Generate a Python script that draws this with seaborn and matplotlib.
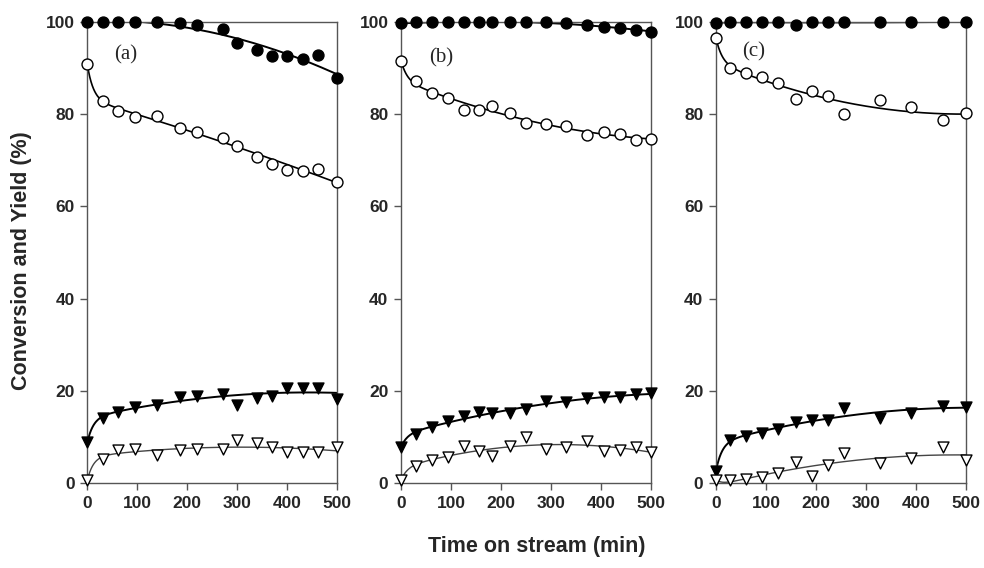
import numpy as np
import matplotlib
matplotlib.use("Agg")
import matplotlib.pyplot as plt
import seaborn as sns

# ---- data ----
time_a = [0, 32, 62, 95, 140, 186, 220, 272, 300, 340, 370, 400, 432, 462, 500]
conv_a = [100, 100, 100, 100, 100, 99.7, 99.3, 98.4, 95.5, 93.9, 92.6, 92.6, 92.0, 92.8, 87.9]
sel_a = [90.8, 82.9, 80.7, 79.4, 79.6, 77.1, 76.1, 74.9, 73.2, 70.7, 69.1, 68.0, 67.6, 68.1, 65.2]
yld1_a = [8.8, 14.2, 15.5, 16.4, 17.0, 18.6, 18.8, 19.4, 17.0, 18.4, 18.9, 20.7, 20.7, 20.7, 18.3]
yld2_a = [0.6, 5.3, 7.2, 7.4, 6.0, 7.1, 7.3, 7.4, 9.4, 8.6, 7.9, 6.7, 6.7, 6.7, 7.8]

time_b = [0, 31, 63, 95, 126, 157, 183, 218, 250, 290, 331, 373, 407, 438, 471, 500]
conv_b = [99.7, 100, 100, 100, 100, 100, 100, 100, 100, 99.9, 99.7, 99.3, 99.0, 98.8, 98.2, 97.9]
sel_b = [91.6, 87.2, 84.6, 83.5, 81.0, 80.9, 81.8, 80.3, 78.1, 77.8, 77.5, 75.4, 76.2, 75.7, 74.3, 74.6]
yld1_b = [7.8, 10.6, 12.2, 13.4, 14.6, 15.3, 15.1, 15.1, 16.0, 17.8, 17.5, 18.4, 18.6, 18.6, 19.3, 19.5]
yld2_b = [0.6, 3.8, 5.0, 5.6, 8.1, 6.9, 5.8, 8.1, 9.9, 7.4, 7.8, 9.2, 6.9, 7.2, 7.9, 6.7]

time_c = [0, 29, 61, 93, 125, 160, 193, 225, 256, 329, 391, 455, 500]
conv_c = [99.7, 100, 100, 100, 100, 99.3, 100, 100, 100, 100, 100, 100, 100]
sel_c = [96.6, 90.1, 89.0, 88.1, 86.8, 83.4, 85.0, 83.9, 80.0, 83.1, 81.6, 78.8, 80.2]
yld1_c = [2.6, 9.4, 10.1, 10.8, 11.7, 13.2, 13.7, 13.7, 16.3, 14.1, 15.1, 16.8, 16.5]
yld2_c = [0.7, 0.6, 0.9, 1.4, 2.2, 4.5, 1.6, 4.0, 6.5, 4.4, 5.5, 7.9, 5.0]

panels = [
    ("(a)", time_a, conv_a, sel_a, yld1_a, yld2_a, (77, 92.8)),
    ("(b)", time_b, conv_b, sel_b, yld1_b, yld2_b, (80, 92.3)),
    ("(c)", time_c, conv_c, sel_c, yld1_c, yld2_c, (76, 93.5)),
]

sns.set_style("ticks")
plt.rcParams["font.family"] = ["Liberation Sans", "DejaVu Sans"]


def fit_curve(t, y, tau=12.0):
    # least-squares smooth fit through the measured points
    t = np.asarray(t, float)
    y = np.asarray(y, float)
    A = np.column_stack([np.ones_like(t), t, t ** 2, np.exp(-t / tau)])
    coef, *_ = np.linalg.lstsq(A, y, rcond=None)
    tt = np.linspace(0, 500, 400)
    B = np.column_stack([np.ones_like(tt), tt, tt ** 2, np.exp(-tt / tau)])
    return tt, B @ coef


fig = plt.figure(figsize=(9.84, 5.68), dpi=100)
lefts = [0.0887, 0.4075, 0.7276]
spine_col = "#555555"

for left, (lab, t, conv, sel, y1, y2, lab_pos) in zip(lefts, panels):
    ax = fig.add_axes([left, 0.1496, 0.2538, 0.8117])
    series = [
        (conv, "o", "black", "black", 1.4),
        (sel, "o", "white", "black", 1.2),
        (y1, "v", "black", "black", 1.4),
        (y2, "v", "white", "#444444", 1.0),
    ]
    for y, mk, fc, lc, lw in series:
        tt, yy = fit_curve(t, y)
        sns.lineplot(x=tt, y=yy, ax=ax, color=lc, lw=lw, zorder=2)
        sns.scatterplot(x=t, y=y, ax=ax, marker=mk, s=62, color=fc,
                        edgecolor="black", linewidth=1.0, zorder=3, clip_on=False)
    ax.set_xlim(0, 500)
    ax.set_ylim(0, 100)
    ax.set_xticks([0, 100, 200, 300, 400, 500])
    ax.set_yticks([0, 20, 40, 60, 80, 100])
    for s in ax.spines.values():
        s.set_visible(True)
        s.set_color(spine_col)
        s.set_linewidth(1.0)
    ax.tick_params(direction="out", length=5, width=1, color=spine_col,
                   labelsize=12.5, pad=4)
    for tl in ax.get_xticklabels() + ax.get_yticklabels():
        tl.set_fontweight("bold")
    ax.set_xlabel("")
    ax.set_ylabel("")
    ax.text(lab_pos[0], lab_pos[1], lab, fontsize=15, family="Liberation Serif",
            ha="center", va="center")

fig.text(0.022, 0.542, "Conversion and Yield (%)", rotation=90, ha="center",
         va="center", fontsize=15.5, fontweight="bold")
fig.text(0.545, 0.037, "Time on stream (min)", ha="center", va="center",
         fontsize=15.5, fontweight="bold")

fig.savefig("out.png", dpi=100)
